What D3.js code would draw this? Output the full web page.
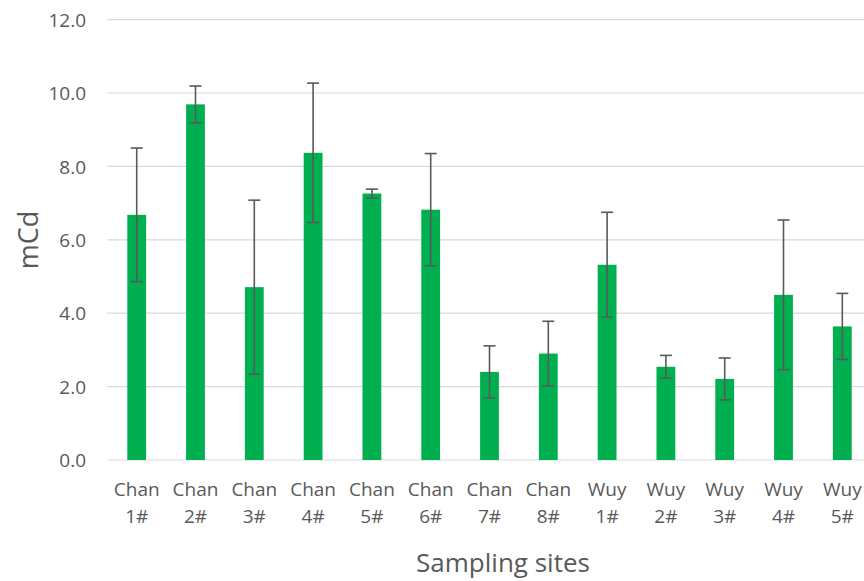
<!DOCTYPE html>
<html>
<head>
<meta charset="utf-8">
<script src="https://cdn.jsdelivr.net/npm/d3@7"></script>
<style>
  html, body { margin: 0; padding: 0; background: #fff; }
  svg { display: block; }
</style>
</head>
<body>
<svg id="chart" width="864" height="581"></svg>
<script>
const categories = [["Chan","1#"],["Chan","2#"],["Chan","3#"],["Chan","4#"],["Chan","5#"],["Chan","6#"],["Chan","7#"],["Chan","8#"],["Wuy","1#"],["Wuy","2#"],["Wuy","3#"],["Wuy","4#"],["Wuy","5#"]];
const values = [6.68, 9.69, 4.71, 8.37, 7.26, 6.82, 2.40, 2.90, 5.32, 2.54, 2.21, 4.50, 3.64];
const errors = [1.82, 0.50, 2.37, 1.90, 0.12, 1.53, 0.71, 0.88, 1.43, 0.31, 0.57, 2.04, 0.90];
const yTicks = [0, 2, 4, 6, 8, 10, 12];

const svg = d3.select("#chart");
const font = "'Open Sans', 'Noto Sans', sans-serif";
const textColor = "#595959";

const x = d3.scaleBand().domain(d3.range(categories.length)).range([107.3, 871.7]).paddingInner(0.68).paddingOuter(0.34);
const y = d3.scaleLinear().domain([0, 12]).range([460, 19.6]);

// gridlines
svg.append("g").selectAll("line").data(yTicks).join("line")
  .attr("x1", 107.3).attr("x2", 871.7)
  .attr("y1", d => y(d)).attr("y2", d => y(d))
  .attr("stroke", "#d9d9d9").attr("stroke-width", 1.2);

// y axis labels
const yAxis = d3.axisLeft(y).tickValues(yTicks).tickFormat(d3.format(".1f")).tickSize(0).tickPadding(0);
const ya = svg.append("g").attr("transform", "translate(86,0)").call(yAxis);
ya.select(".domain").remove();
ya.selectAll("text").attr("font-family", font).attr("font-size", 19).attr("fill", textColor).attr("dy", "0.35em");

// bars
svg.append("g").selectAll("rect").data(values).join("rect")
  .attr("x", (d, i) => x(i)).attr("width", x.bandwidth())
  .attr("y", d => y(d)).attr("height", d => y(0) - y(d))
  .attr("fill", "#00B050");

// error bars
const eg = svg.append("g").attr("stroke", "#595959").attr("stroke-width", 1.6);
values.forEach((v, i) => {
  const cx = x(i) + x.bandwidth() / 2;
  const hi = y(v + errors[i]), lo = y(v - errors[i]);
  eg.append("line").attr("x1", cx).attr("x2", cx).attr("y1", hi).attr("y2", lo);
  eg.append("line").attr("x1", cx - 6).attr("x2", cx + 6).attr("y1", hi).attr("y2", hi);
  eg.append("line").attr("x1", cx - 6).attr("x2", cx + 6).attr("y1", lo).attr("y2", lo);
});

// x labels
const xl = svg.append("g");
categories.forEach((c, i) => {
  const cx = x(i) + x.bandwidth() / 2;
  const t = xl.append("text").attr("x", cx).attr("text-anchor", "middle")
    .attr("font-family", font).attr("font-size", 19).attr("fill", textColor);
  t.append("tspan").attr("x", cx).attr("y", 496).text(c[0]);
  t.append("tspan").attr("x", cx).attr("y", 523).text(c[1]);
});

// axis titles
svg.append("text").attr("x", 503).attr("y", 572).attr("text-anchor", "middle")
  .attr("font-family", font).attr("font-size", 26).attr("fill", textColor).text("Sampling sites");
svg.append("text").attr("transform", "translate(38,240) rotate(-90)").attr("text-anchor", "middle")
  .attr("font-family", font).attr("font-size", 27).attr("fill", textColor).text("mCd");
</script>
</body>
</html>
